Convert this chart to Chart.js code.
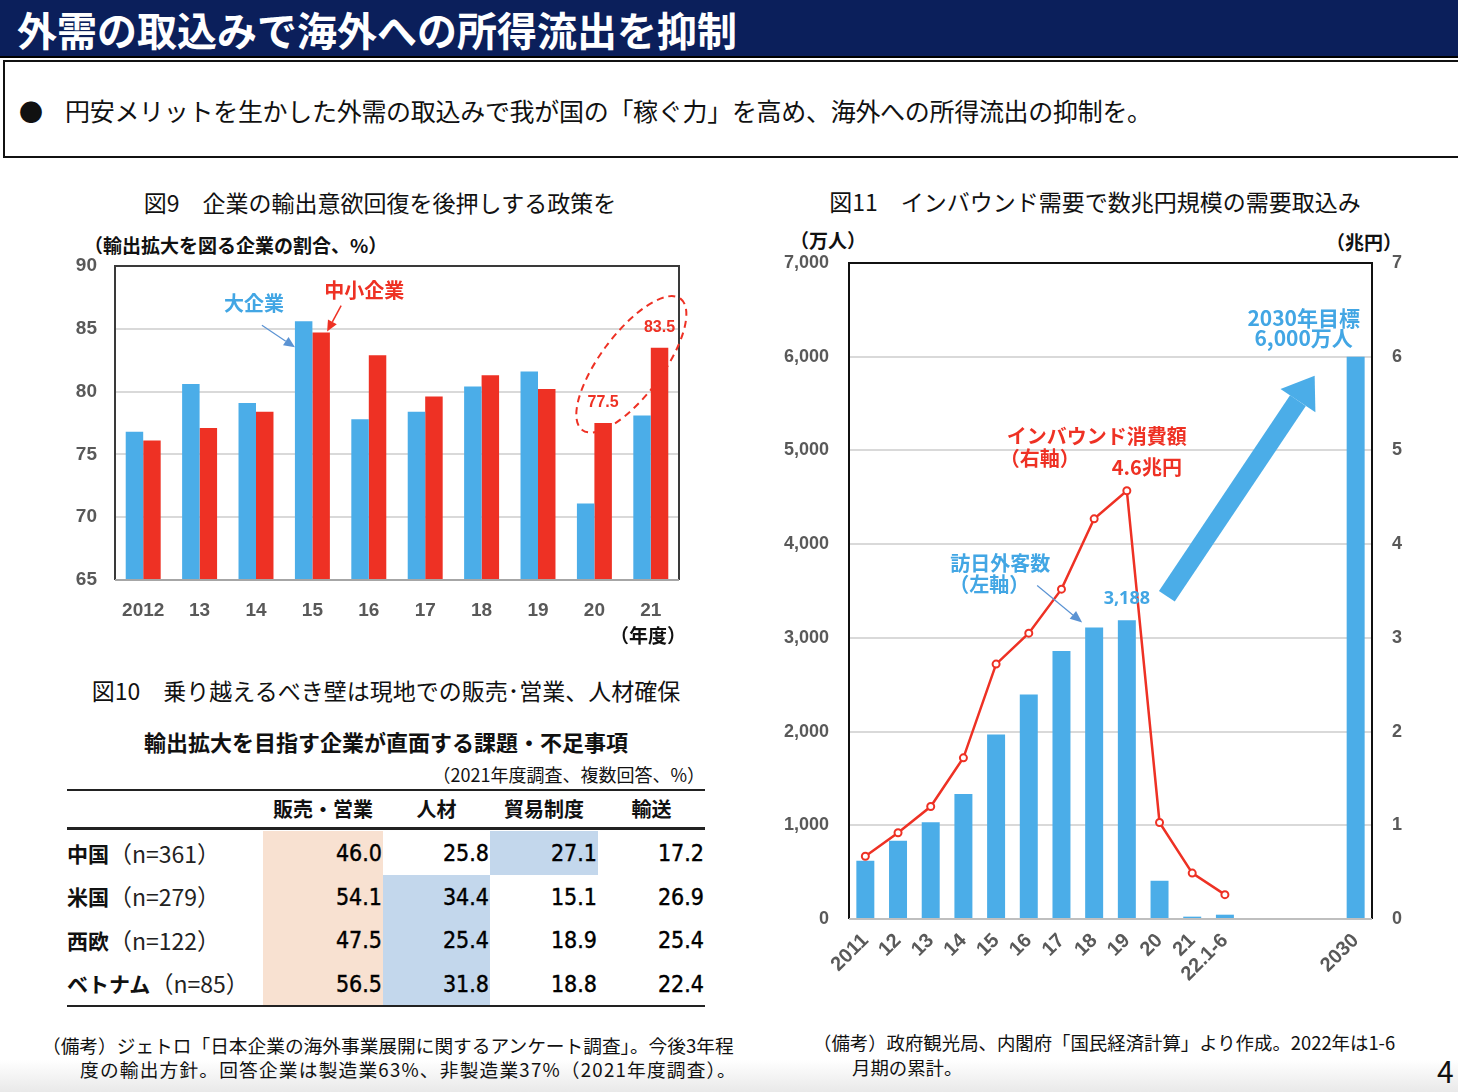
<!DOCTYPE html>
<html lang="ja">
<head>
<meta charset="utf-8">
<script src="https://cdn.jsdelivr.net/npm/chart.js@4.4.1/dist/chart.umd.min.js"></script>
<style>
  body { margin:0; width:1458px; height:1092px; overflow:hidden; background:#fff; position:relative;
         font-family:"Noto Sans CJK JP","Noto Sans",sans-serif; color:#111; }
  .t { position:absolute; white-space:nowrap; line-height:1; }
  #hdr { position:absolute; left:0; top:0; width:1458px; height:58px; background:#0b1f5b; border-bottom:2px solid #000;
         color:#fff; font-weight:bold; font-size:40px; line-height:58px; padding-left:17px; box-sizing:border-box; }
  #lead { position:absolute; left:3px; top:60px; width:1470px; height:98px; border:2px solid #111; box-sizing:border-box; }
  canvas { position:absolute; }
  .cell { position:absolute; box-sizing:border-box; display:flex; align-items:center; }
  .num { justify-content:flex-end; font-family:"DejaVu Sans Condensed","Liberation Sans Narrow",sans-serif; font-size:23px;
         padding-right:1px; color:#000; -webkit-text-stroke:0.4px #000; }
  .rule { position:absolute; left:67px; width:638px; background:#222; }
  #foot { position:absolute; left:0; top:1060px; width:1458px; height:32px; background:linear-gradient(#fff,#e9e9e9); }
</style>
</head>
<body>
<div id="foot"></div>
<div id="hdr">外需の取込みで海外への所得流出を抑制</div>
<div id="lead"></div>
<div class="t" style="left:19px;top:99px;font-size:24px;">●</div>
<div class="t" style="left:65px;top:98px;font-size:25px;letter-spacing:-0.3px;">円安メリットを生かした外需の取込みで我が国の「稼ぐ力」を高め、海外への所得流出の抑制を。</div>

<div class="t" style="left:80px;width:600px;text-align:center;top:191px;font-size:23px;">図9　企業の輸出意欲回復を後押しする政策を</div>
<div class="t" style="left:84px;top:235px;font-size:19px;font-weight:bold;">（輸出拡大を図る企業の割合、%）</div>
<canvas id="fig9" width="640" height="425" style="left:60px;top:225px;"></canvas>
<div class="t" style="left:610px;top:625px;font-size:19px;font-weight:bold;">（年度）</div>

<div class="t" style="left:86px;width:600px;text-align:center;top:679px;font-size:23px;">図10　乗り越えるべき壁は現地での販売･営業、人材確保</div>
<div class="t" style="left:86px;width:600px;text-align:center;top:730px;font-size:22px;font-weight:bold;">輸出拡大を目指す企業が直面する課題・不足事項</div>
<div class="t" style="left:405px;width:300px;text-align:right;top:765px;font-size:18px;">（2021年度調査、複数回答、%）</div>
<div id="t10"></div>

<div class="t" style="left:42px;top:1036px;font-size:18.7px;">（備考）ジェトロ「日本企業の海外事業展開に関するアンケート調査」。今後3年程</div>
<div class="t" style="left:80px;top:1060px;font-size:18.7px;letter-spacing:1.2px;">度の輸出方針。回答企業は製造業63%、非製造業37%（2021年度調査）。</div>

<div class="t" style="left:800px;width:590px;text-align:center;top:190px;font-size:23px;">図11　インバウンド需要で数兆円規模の需要取込み</div>
<div class="t" style="left:790px;top:230px;font-size:19px;font-weight:bold;">（万人）</div>
<div class="t" style="left:1326px;top:232px;font-size:19px;font-weight:bold;">（兆円）</div>
<canvas id="fig11" width="660" height="775" style="left:770px;top:225px;"></canvas>

<div class="t" style="left:813px;top:1033px;font-size:18.4px;">（備考）政府観光局、内閣府「国民経済計算」より作成。2022年は1-6</div>
<div class="t" style="left:852px;top:1058px;font-size:18.4px;">月期の累計。</div>
<div class="t" style="left:1437px;top:1055px;font-size:30px;">4</div>

<script>
// 図9: 輸出拡大を図る企業の割合（%）
const fig9Years = ['2012', '13', '14', '15', '16', '17', '18', '19', '20', '21'];
const fig9Large = [76.8, 80.6, 79.1, 85.6, 77.8, 78.4, 80.4, 81.6, 71.1, 78.1];
const fig9Small = [76.1, 77.1, 78.4, 84.7, 82.9, 79.6, 81.3, 80.2, 77.5, 83.5];

// 図10: 課題・不足事項（%）
const tableCols = ['販売・営業', '人材', '貿易制度', '輸送'];
const tableRows = ['中国', '米国', '西欧', 'ベトナム'];
const tableN = ['n=361', 'n=279', 'n=122', 'n=85'];
const tableVals = [
  [46.0, 25.8, 27.1, 17.2],
  [54.1, 34.4, 15.1, 26.9],
  [47.5, 25.4, 18.9, 25.4],
  [56.5, 31.8, 18.8, 22.4]
];

// 図11: 訪日外客数（万人）とインバウンド消費額（兆円）
const fig11Labels = ['2011', '12', '13', '14', '15', '16', '17', '18', '19', '20', '21', '22.1-6', '', '', '', '2030'];
const fig11Visitors = [622, 834, 1033, 1335, 1970, 2396, 2861, 3110, 3188, 408, 25, 46, null, null, null, 6000];
const fig11Spending = [0.67, 0.92, 1.20, 1.72, 2.72, 3.05, 3.52, 4.27, 4.57, 1.03, 0.49, 0.26, null, null, null, null];

const BLUE = '#4badE8';
const RED = '#ee3124';
const TXT_BLUE = '#42a6e4';
const TICK = '#595959';
const NUMFONT = '"Liberation Sans", Arial, sans-serif';
const JPFONT = '"Noto Sans CJK JP", sans-serif';

function drawArrow(ctx, x1, y1, x2, y2, color, lw, head, hw) {
  const a = Math.atan2(y2 - y1, x2 - x1);
  const bx = x2 - head * Math.cos(a), by = y2 - head * Math.sin(a);
  ctx.save();
  ctx.strokeStyle = color;
  ctx.fillStyle = color;
  ctx.lineWidth = lw;
  ctx.beginPath();
  ctx.moveTo(x1, y1);
  ctx.lineTo(bx, by);
  ctx.stroke();
  ctx.beginPath();
  ctx.moveTo(x2, y2);
  ctx.lineTo(bx + hw * Math.sin(a), by - hw * Math.cos(a));
  ctx.lineTo(bx - hw * Math.sin(a), by + hw * Math.cos(a));
  ctx.closePath();
  ctx.fill();
  ctx.restore();
}

function txt(ctx, s, x, y, color, font, align) {
  ctx.save();
  ctx.fillStyle = color;
  ctx.font = font;
  ctx.textAlign = align || 'center';
  ctx.textBaseline = 'middle';
  ctx.fillText(s, x, y);
  ctx.restore();
}

function frame(ctx, area, sideColor, bottomColor) {
  ctx.save();
  ctx.lineWidth = 2;
  ctx.strokeStyle = sideColor;
  ctx.beginPath();
  ctx.moveTo(area.left, area.bottom);
  ctx.lineTo(area.left, area.top);
  ctx.lineTo(area.right, area.top);
  ctx.lineTo(area.right, area.bottom);
  ctx.stroke();
  ctx.strokeStyle = bottomColor;
  ctx.beginPath();
  ctx.moveTo(area.left, area.bottom);
  ctx.lineTo(area.right, area.bottom);
  ctx.stroke();
  ctx.restore();
}

const fig9Notes = {
  id: 'fig9Notes',
  afterDatasetsDraw(chart) {
    const ctx = chart.ctx;
    frame(ctx, chart.chartArea, '#3a3a3a', '#a6a6a6');
    const large = chart.getDatasetMeta(0).data;
    const small = chart.getDatasetMeta(1).data;
    const font = 'bold 20px ' + JPFONT;

    // 大企業
    const b = large[3];
    const tb = { x: b.x - b.width / 2, y: b.y + 26 };
    drawArrow(ctx, tb.x - 33, tb.y - 22, tb.x, tb.y, '#5b93d3', 1.2, 11, 5);
    txt(ctx, '大企業', tb.x - 41, tb.y - 44, TXT_BLUE, font);

    // 中小企業
    const r = small[3];
    const tr = { x: r.x + 6, y: r.y - 1 };
    drawArrow(ctx, tr.x + 14, tr.y - 26, tr.x, tr.y, RED, 1.5, 11, 5);
    txt(ctx, '中小企業', tr.x + 37, tr.y - 41, RED, font);

    // 20・21年度の中小企業
    const r20 = small[8], r21 = small[9];
    txt(ctx, fig9Small[8].toFixed(1), r20.x, r20.y - 20, RED, 'bold 16px ' + NUMFONT);
    txt(ctx, fig9Small[9].toFixed(1), r21.x, r21.y - 20, RED, 'bold 16px ' + NUMFONT);
    const cx = (r20.x + r21.x) / 2, cy = (r20.y + r21.y) / 2 - 21;
    const ang = Math.atan2(r21.y - r20.y, r21.x - r20.x);
    ctx.save();
    ctx.strokeStyle = RED;
    ctx.lineWidth = 2;
    ctx.setLineDash([7, 5]);
    ctx.beginPath();
    ctx.ellipse(cx, cy, 82, 31, ang, 0, Math.PI * 2);
    ctx.stroke();
    ctx.restore();
  }
};

new Chart(document.getElementById('fig9'), {
  type: 'bar',
  data: {
    labels: fig9Years,
    datasets: [
      { label: '大企業', data: fig9Large, backgroundColor: BLUE, barPercentage: 1, categoryPercentage: 0.62 },
      { label: '中小企業', data: fig9Small, backgroundColor: RED, barPercentage: 1, categoryPercentage: 0.62 }
    ]
  },
  options: {
    responsive: false,
    animation: false,
    devicePixelRatio: 1,
    layout: { padding: { top: 41, right: 21, left: 0, bottom: 0 } },
    plugins: { legend: { display: false }, tooltip: { enabled: false } },
    scales: {
      x: {
        grid: { display: false, drawTicks: false },
        border: { display: false },
        ticks: { color: TICK, font: { family: NUMFONT, size: 19, weight: 'bold' }, padding: 19 },
        afterFit(s) { s.height = 70; }
      },
      y: {
        min: 65, max: 90,
        ticks: { stepSize: 5, color: TICK, font: { family: NUMFONT, size: 19, weight: 'bold' }, padding: 18 },
        grid: { color: '#d9d9d9', lineWidth: 2, drawTicks: false },
        border: { display: false },
        afterFit(s) { s.width = 55; }
      }
    }
  },
  plugins: [fig9Notes]
});

// 図10 表
(function buildTable() {
  const host = document.getElementById('t10');
  const xs = [67, 263, 383, 490, 598, 705];
  const top = 831, rowH = 43.5;
  let html = '';
  html += '<div class="rule" style="top:789px;height:2px"></div>';
  tableCols.forEach((c, j) => {
    html += `<div class="cell" style="left:${xs[j + 1]}px;width:${xs[j + 2] - xs[j + 1]}px;top:790px;height:37px;justify-content:center;font-size:20px;font-weight:bold;">${c}</div>`;
  });
  tableRows.forEach((name, i) => {
    const y = top + i * rowH;
    html += `<div class="cell" style="left:${xs[0]}px;width:196px;top:${y}px;height:${rowH}px;font-size:21px;"><b>${name}</b><span style="font-family:'Liberation Sans Narrow','Noto Sans CJK JP',sans-serif;font-size:23px;color:#222">（${tableN[i]}）</span></div>`;
    tableVals[i].forEach((v, j) => {
      let bg = 'transparent';
      if (j === 0) bg = '#f8e1d1';
      if ((j === 1 && i > 0) || (j === 2 && i === 0)) bg = '#c3d7ec';
      html += `<div class="cell num" style="left:${xs[j + 1]}px;width:${xs[j + 2] - xs[j + 1]}px;top:${y}px;height:${rowH + 0.5}px;background:${bg};">${v.toFixed(1)}</div>`;
    });
  });
  html += '<div class="rule" style="top:827px;height:3px"></div>';
  html += '<div class="rule" style="top:1005px;height:2px"></div>';
  host.innerHTML = html;
})();

const fig11Notes = {
  id: 'fig11Notes',
  afterDatasetsDraw(chart) {
    const ctx = chart.ctx;
    frame(ctx, chart.chartArea, '#111', '#bfbfbf');
    const bars = chart.getDatasetMeta(0).data;
    const pts = chart.getDatasetMeta(1).data;

    // インバウンド消費額
    const peak = pts[8];
    txt(ctx, 'インバウンド消費額', peak.x - 30, peak.y - 54, RED, 'bold 20px ' + JPFONT);
    txt(ctx, '（右軸）', peak.x - 127, peak.y - 32, RED, 'bold 20px ' + JPFONT, 'left');
    txt(ctx, fig11Spending[8].toFixed(1) + '兆円', peak.x + 20, peak.y - 23, RED, 'bold 20px ' + JPFONT);

    // 訪日外客数
    const b18 = bars[7];
    const tip = { x: b18.x - 12, y: b18.y - 5 };
    drawArrow(ctx, tip.x - 45, tip.y - 37, tip.x, tip.y, '#5b93d3', 1.2, 12, 5);
    txt(ctx, '訪日外客数', tip.x - 82, tip.y - 59, TXT_BLUE, 'bold 20px ' + JPFONT);
    txt(ctx, '（左軸）', tip.x - 93, tip.y - 38, TXT_BLUE, 'bold 20px ' + JPFONT);

    const b19 = bars[8];
    txt(ctx, fig11Visitors[8].toLocaleString('en-US'), b19.x, b19.y - 21, TXT_BLUE, 'bold 18px "Noto Sans", sans-serif');

    // 2030年目標
    const b30 = bars[15];
    drawArrow(ctx, b19.x + 40, b19.y - 24, b30.x - 41, b30.y + 19, BLUE, 19, 30, 21);
    txt(ctx, '2030年目標', b30.x - 52, b30.y - 39, TXT_BLUE, 'bold 21px ' + JPFONT);
    txt(ctx, fig11Visitors[15].toLocaleString('en-US') + '万人', b30.x - 52, b30.y - 19, TXT_BLUE, 'bold 21px ' + JPFONT);
  }
};

new Chart(document.getElementById('fig11'), {
  data: {
    labels: fig11Labels,
    datasets: [
      { type: 'bar', label: '訪日外客数', data: fig11Visitors, yAxisID: 'y', backgroundColor: BLUE,
        barPercentage: 0.55, categoryPercentage: 1, order: 2 },
      { type: 'line', label: 'インバウンド消費額', data: fig11Spending, yAxisID: 'y1', borderColor: RED, borderWidth: 2.5,
        tension: 0, pointRadius: 3.5, pointBorderWidth: 2, pointBackgroundColor: '#fff', pointBorderColor: RED, order: 1 }
    ]
  },
  options: {
    responsive: false,
    animation: false,
    devicePixelRatio: 1,
    layout: { padding: { top: 38, right: 0, left: 0, bottom: 0 } },
    plugins: { legend: { display: false }, tooltip: { enabled: false } },
    scales: {
      x: {
        grid: { display: false, drawTicks: false },
        border: { display: false },
        ticks: { autoSkip: false, minRotation: 45, maxRotation: 45, color: TICK,
                 font: { family: NUMFONT, size: 20, weight: 'bold' }, padding: 10 },
        afterFit(s) { s.height = 81; }
      },
      y: {
        position: 'left', min: 0, max: 7000,
        ticks: { stepSize: 1000, color: TICK, font: { family: NUMFONT, size: 18, weight: 'bold' }, padding: 20,
                 callback: v => v.toLocaleString('en-US') },
        grid: { color: '#d9d9d9', lineWidth: 2, drawTicks: false },
        border: { display: false },
        afterFit(s) { s.width = 79; }
      },
      y1: {
        position: 'right', min: 0, max: 7,
        ticks: { stepSize: 1, color: TICK, font: { family: NUMFONT, size: 18, weight: 'bold' }, padding: 20 },
        grid: { display: false, drawTicks: false },
        border: { display: false },
        afterFit(s) { s.width = 58; }
      }
    }
  },
  plugins: [fig11Notes]
});
</script>
</body>
</html>
